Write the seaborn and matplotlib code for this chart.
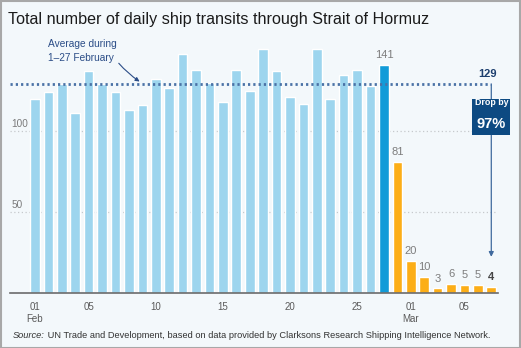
import matplotlib
matplotlib.use("Agg")
import matplotlib.pyplot as plt
from matplotlib.patches import Rectangle
import seaborn as sns

# Daily transits, 1 Feb – 7 Mar
feb_days = [f"Feb {d:02d}" for d in range(1, 29)]
mar_days = [f"Mar {d:02d}" for d in range(1, 8)]
days = feb_days + mar_days

feb_before = [120, 124, 129, 111, 137, 129, 124, 113, 116,
              132, 127, 148, 138, 130, 118, 138, 125, 151,
              137, 121, 117, 151, 120, 135, 138, 128]
feb_27 = [141]
after = [81, 20, 10, 3, 6, 5, 5, 4]
transits = feb_before + feb_27 + after

average = 129
drop_pct = 97

tick_pos = [0, 4, 9, 14, 19, 24, 28, 32]
tick_labels = ["01\nFeb", "05", "10", "15", "20", "25", "01\nMar", "05"]

light_blue = "#9dd5ee"
strong_blue = "#129bd8"
orange = "#fcae17"
navy = "#0d4a82"
bg = "#f3f8fb"

colors = ([light_blue] * len(feb_before) + [strong_blue] * len(feb_27)
          + [orange] * len(after))

sns.set_theme(style="white")
plt.rcParams["font.family"] = ["Liberation Sans", "DejaVu Sans"]

W, H = 521, 348
fig = plt.figure(figsize=(W / 100, H / 100), dpi=100, facecolor=bg)

ax_left, ax_right = 10, 498
ax_bottom, ax_top = 293.3, 34.1
ax = fig.add_axes([ax_left / W, (H - ax_bottom) / H,
                   (ax_right - ax_left) / W, (ax_bottom - ax_top) / H])
ax.set_facecolor(bg)

sns.barplot(x=days, y=transits, hue=days, palette=colors, legend=False,
            width=0.72, saturation=1, ax=ax, zorder=3)

ax.set_xlim(-1.86, 34.5)
ax.set_ylim(0, 160)

# gridlines at 50 and 100
for g in (50, 100):
    ax.axhline(g, color="#c6c9cc", lw=0.9, ls=(0, (1, 2)), zorder=1)
    ax.annotate(str(g), xy=(0, g), xycoords=("axes fraction", "data"),
                xytext=(1, 1.5), textcoords="offset points",
                ha="left", va="bottom", fontsize=7.2, color="#7a7a7a")

ax.set_yticks([])
ax.set_xticks(tick_pos)
ax.set_xticklabels(tick_labels, fontsize=7, color="#5a5a5a", linespacing=1.35)
ax.tick_params(axis="x", length=0, pad=6)
ax.set_xlabel("")
ax.set_ylabel("")
for s in ("left", "right", "top"):
    ax.spines[s].set_visible(False)
ax.spines["bottom"].set_color("#6b6b6b")
ax.spines["bottom"].set_linewidth(1.2)
ax.spines["bottom"].set_zorder(4)

# average line
last = len(transits) - 1
ax.plot([-1.86, last], [average, average], color="#4a72a6", lw=2.0,
        ls=(0, (0.8, 1.1)), zorder=5, solid_capstyle="butt")
ax.text(last - 0.3, average + 3.5, str(average), ha="center", va="bottom",
        fontsize=8, fontweight="bold", color="#1d3f6e", zorder=6)

ax.text(0.97, 149.7, "Average during\n1–27 February", ha="left", va="center",
        fontsize=7.3, color="#2b4d87", linespacing=1.45, zorder=6)
ax.annotate("", xy=(7.97, 129.8), xytext=(6.11, 143.3),
            arrowprops=dict(arrowstyle="-|>", color="#2b4d87", lw=0.8,
                            mutation_scale=6,
                            connectionstyle="arc3,rad=0.08"), zorder=6)

# value labels for the last days
for i in range(len(feb_before), len(transits)):
    v = transits[i]
    col = "#454545" if i == last else "#7d7d7d"
    ax.annotate(str(v), xy=(i, v), xytext=(0, 3.5), textcoords="offset points",
                ha="center", va="bottom", fontsize=8, color=col,
                fontweight="bold" if i == last else "normal", zorder=6)

# drop arrow and box
ax.annotate("", xy=(last, 22.5), xytext=(last, average),
            arrowprops=dict(arrowstyle="-|>", color="#3f6a9e", lw=0.9,
                            mutation_scale=7, shrinkA=0, shrinkB=0),
            zorder=6, annotation_clip=False)
box = Rectangle((last - 1.4, 97.8), 2.83, 22.2, facecolor=navy,
                edgecolor="none", zorder=7, clip_on=False)
ax.add_patch(box)
ax.text(last + 0.02, 118.0, "Drop by", ha="center", va="center", fontsize=6.4,
        fontweight="bold", color="white", zorder=8, clip_on=False)
ax.text(last + 0.02, 104.3, f"{drop_pct}%", ha="center", va="center",
        fontsize=10.5, fontweight="bold", color="white", zorder=8, clip_on=False)

# title
fig.text(8 / W, 1 - 24 / H, "Total number of daily ship transits through Strait of Hormuz",
         ha="left", va="baseline", fontsize=11.6, color="#1b1b1b")

# source line
src = fig.text(13 / W, 1 - 338 / H, "Source:", ha="left", va="baseline",
               fontsize=6.7, style="italic", color="#333333")
ax.annotate(" UN Trade and Development, based on data provided by Clarksons Research "
            "Shipping Intelligence Network.", xy=(1, 0), xycoords=src,
            ha="left", va="bottom", fontsize=6.7, color="#333333",
            annotation_clip=False)

# outer frame
fig.patches.append(Rectangle((0.5 / W, 0.5 / H), 1 - 1.5 / W, 1 - 1.5 / H,
                             transform=fig.transFigure, fill=False,
                             edgecolor="#a8a8a8", lw=1.5))

fig.savefig("out.png", dpi=100, facecolor=bg)
